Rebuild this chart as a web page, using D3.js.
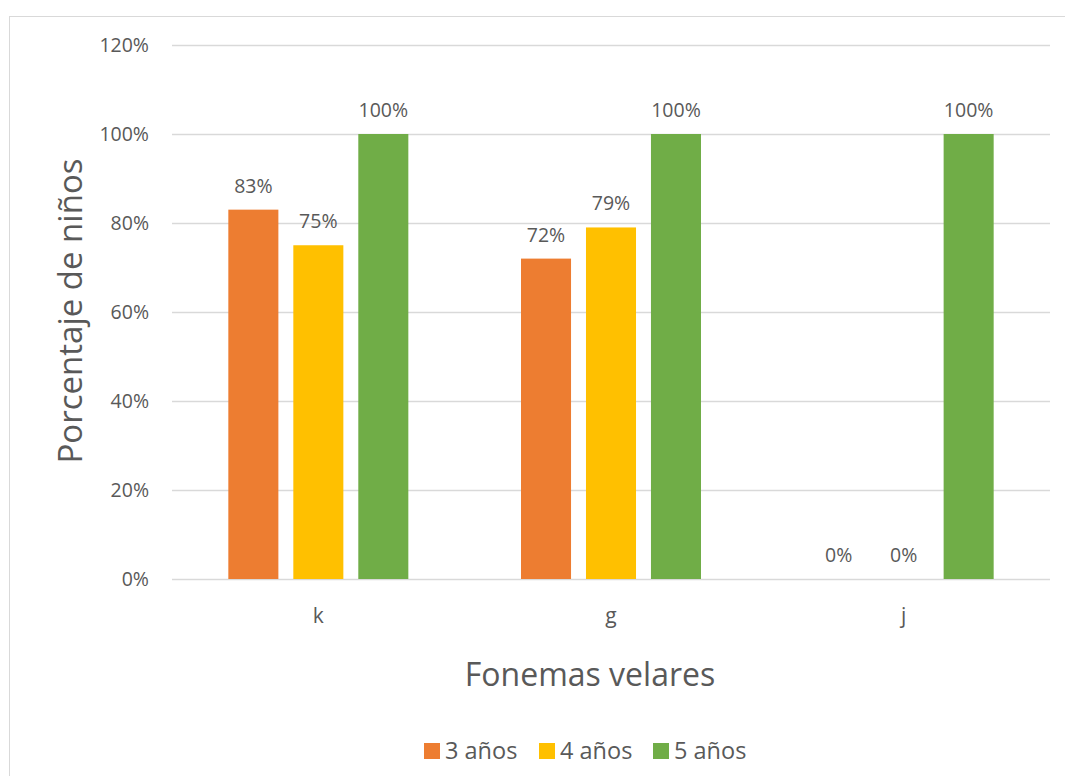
<!DOCTYPE html>
<html><head><meta charset="utf-8">
<script src="https://cdn.jsdelivr.net/npm/d3@7"></script>
<style>body{margin:0;background:#fff}text{font-family:"Open Sans","Liberation Sans",sans-serif;fill:#595959}</style>
</head><body><svg id="c" width="1065" height="776"></svg>
<script>
const categories = ["k","g","j"];
const seriesNames = ["3 años","4 años","5 años"];
const values3 = [83,72,0];
const values4 = [75,79,0];
const values5 = [100,100,100];
const yTicks = [0,20,40,60,80,100,120];
const colors = ["#ED7D31","#FFC000","#70AD47"];

const svg = d3.select("#c");
svg.append("rect").attr("x",9.5).attr("y",16.5).attr("width",1070).attr("height",780).attr("fill","#fff").attr("stroke","#d9d9d9");
const m = {l:172,r:1050,t:45,b:579};
const x = d3.scaleBand().domain(categories).range([m.l,m.r]);
const y = d3.scaleLinear().domain([0,120]).range([m.b,m.t]);
const xs = d3.scaleBand().domain(seriesNames).range([0,180]).paddingInner(0.23);

const grid = svg.append("g");
yTicks.forEach(t=>{
  grid.append("line").attr("x1",m.l).attr("x2",m.r).attr("y1",y(t)+0.5).attr("y2",y(t)+0.5).attr("stroke","#d9d9d9").attr("stroke-width",1.5);
  svg.append("text").attr("x",149).attr("y",y(t)).attr("dy","0.35em").attr("text-anchor","end").attr("font-size",19.5).text(t+"%");
});

const data = [values3,values4,values5];
data.forEach((vals,si)=>{
  categories.forEach((c,ci)=>{
    const bx = x(c)+x.bandwidth()/2-90+xs(seriesNames[si]);
    const v = vals[ci];
    svg.append("rect").attr("x",bx).attr("y",y(v)).attr("width",xs.bandwidth()).attr("height",y(0)-y(v)).attr("fill",colors[si]);
    svg.append("text").attr("x",bx+xs.bandwidth()/2).attr("y",y(v)-17).attr("text-anchor","middle").attr("font-size",19.5).text(v+"%");
  });
});

categories.forEach(c=>{
  svg.append("text").attr("x",x(c)+x.bandwidth()/2).attr("y",623).attr("text-anchor","middle").attr("font-size",21).text(c);
});

svg.append("text").attr("x",590).attr("y",686).attr("text-anchor","middle").attr("font-size",32).text("Fonemas velares");
svg.append("text").attr("transform","translate(82,311) rotate(-90)").attr("text-anchor","middle").attr("font-size",33).text("Porcentaje de niños");

const lg = svg.append("g");
const lx = [424,539,653];
seriesNames.forEach((s,i)=>{
  lg.append("rect").attr("x",lx[i]).attr("y",743).attr("width",16).attr("height",16).attr("fill",colors[i]);
  lg.append("text").attr("x",lx[i]+21).attr("y",751).attr("dy","0.35em").attr("font-size",23.5).text(s);
});
</script></body></html>
